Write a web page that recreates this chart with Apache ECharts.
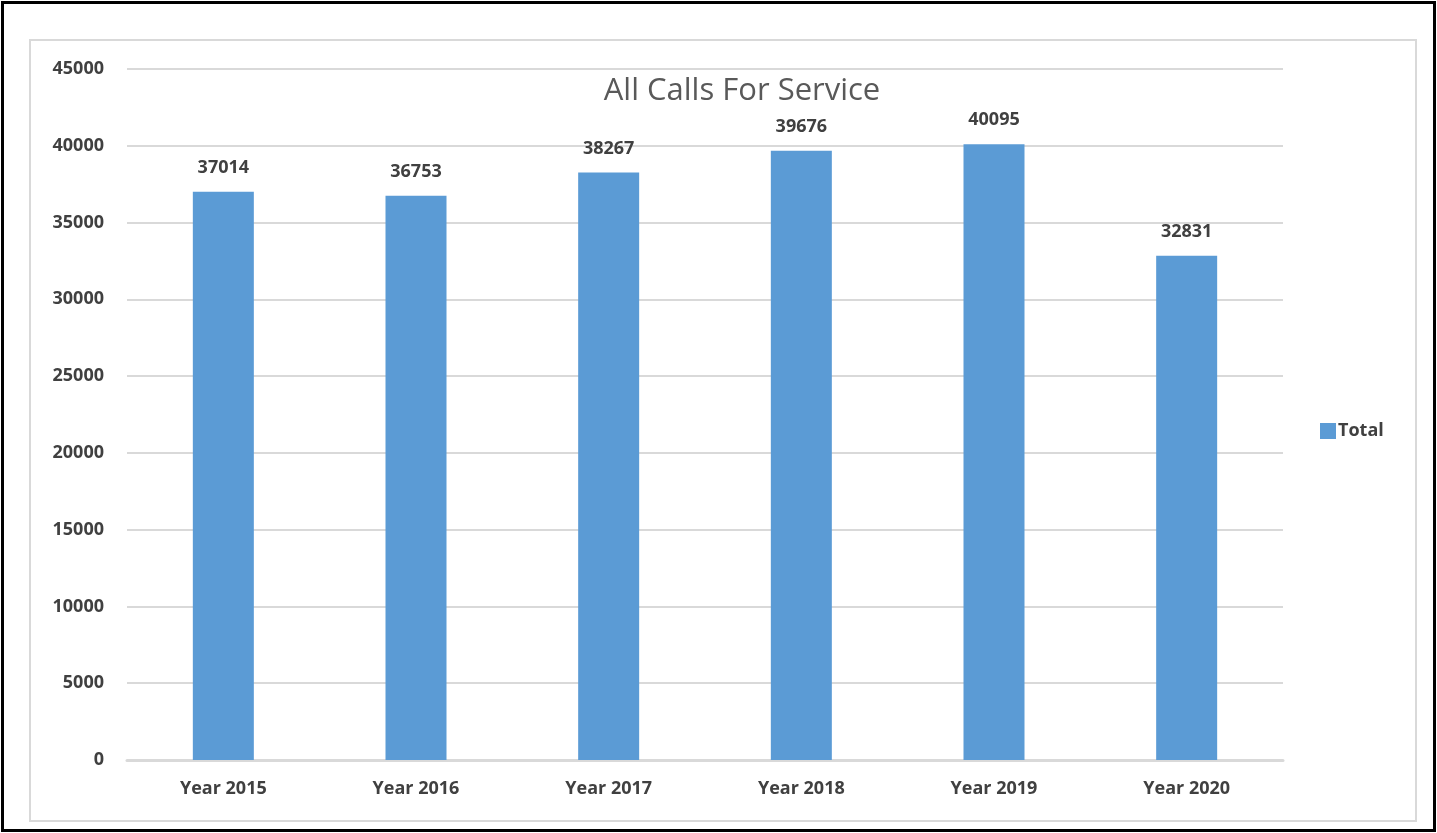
<!DOCTYPE html>
<html>
<head>
<meta charset="utf-8">
<script src="https://cdn.jsdelivr.net/npm/echarts@6/dist/echarts.min.js"></script>
<style>
html,body{margin:0;padding:0;background:#fff;}
#outer{position:absolute;left:1px;top:1px;width:1429px;height:825px;border:3px solid #000;background:#fff;}
#inner{position:absolute;left:29px;top:39px;width:1384px;height:779px;border:2px solid #d9d9d9;}
#chart{position:absolute;left:0;top:0;width:1437px;height:833px;}
</style>
</head>
<body>
<div id="outer"></div>
<div id="inner"></div>
<div id="chart"></div>
<script>
const categories = ["Year 2015","Year 2016","Year 2017","Year 2018","Year 2019","Year 2020"];
const totals = [37014, 36753, 38267, 39676, 40095, 32831];
const seriesName = "Total";
const titleText = "All Calls For Service";

const chart = echarts.init(document.getElementById('chart'));
const font = "'Open Sans', 'Liberation Sans', sans-serif";
chart.setOption({
  animation: false,
  backgroundColor: 'transparent',
  title: {
    text: titleText,
    left: 737, top: 71, textAlign: 'center',
    textStyle: {fontFamily: font, fontSize: 31, fontWeight: 'normal', color: '#595959'}
  },
  legend: {
    data: [seriesName],
    left: 1320, top: 422, padding: 0,
    itemWidth: 16, itemHeight: 16, itemGap: 4,
    icon: 'rect',
    textStyle: {fontFamily: font, fontSize: 18, fontWeight: 'bold', color: '#404040', padding:[0,0,0,-3]}
  },
  grid: {left: 127, right: 1437-1283, top: 69, bottom: 833-760, containLabel: false},
  xAxis: {
    type: 'category',
    data: categories,
    axisTick: {show: false},
    axisLine: {lineStyle: {color: '#d9d9d9', width: 3}},
    axisLabel: {fontFamily: font, fontSize: 18, fontWeight: 'bold', color: '#404040', margin: 20}
  },
  yAxis: {
    type: 'value',
    min: 0, max: 45000, interval: 5000,
    axisLine: {show: false},
    axisTick: {show: false},
    splitLine: {lineStyle: {color: '#d9d9d9', width: 2}},
    axisLabel: {fontFamily: font, fontSize: 18, fontWeight: 'bold', color: '#404040', margin: 23,
      formatter: function (v) { return String(v); }}
  },
  series: [{
    name: seriesName,
    type: 'bar',
    data: totals,
    barWidth: 61,
    itemStyle: {color: '#5b9bd5'},
    label: {
      show: true, position: 'top', distance: 15,
      fontFamily: font, fontSize: 18, fontWeight: 'bold', color: '#404040'
    }
  }]
});
</script>
</body>
</html>
